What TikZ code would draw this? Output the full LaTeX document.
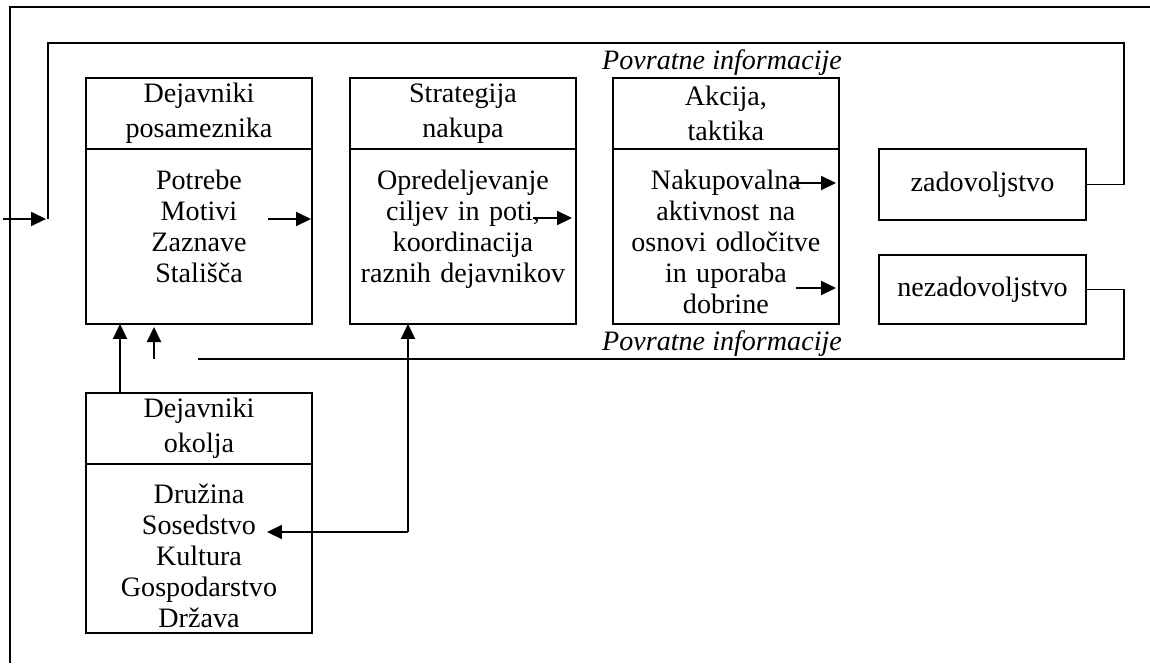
\documentclass[tikz,border=0pt]{standalone}
\usepackage{fontspec}
\setmainfont{Liberation Serif}
\usetikzlibrary{arrows.meta,positioning,calc}

\begin{document}
\begin{tikzpicture}[x=0.02cm, y=-0.02cm,
  boxhead/.style={draw, line width=0.85pt, minimum width=4.52cm, minimum height=1.42cm, inner sep=0pt, outer sep=0pt, align=center, font=\fontsize{16}{19.8}\selectfont},
  boxbody/.style={draw, line width=0.85pt, minimum width=4.52cm, inner sep=0pt, outer sep=0pt},
  boxtext/.style={text width=4.5cm, align=center, inner sep=0pt, anchor=base, font=\fontsize{16}{17.6}\selectfont},
  result/.style={draw, line width=0.85pt, minimum width=4.14cm, inner sep=0pt, outer sep=0pt, font=\fontsize{16}{19}\selectfont},
  feedlabel/.style={inner sep=0pt, anchor=base, font=\fontsize{16}{19}\selectfont\itshape},
  feed/.style={line width=0.7pt},
  frameline/.style={line width=0.85pt},
  arr/.style={line width=1.2pt, -{Triangle[length=0.3cm,width=0.28cm]}}]
\useasboundingbox (0,0) rectangle (1150,663);

% outer frame
\draw[frameline] (10,663) -- (10,7) -- (1150,7);

% boxes
\node[boxhead] (posHead) at (199,113.5) {Dejavniki\\posameznika};
\node[boxbody, minimum height=3.5cm, below=0pt of posHead] (posBody) {};
\node[boxhead, right=0.76cm of posHead] (strHead) {Strategija\\nakupa};
\node[boxbody, minimum height=3.5cm, below=0pt of strHead] (strBody) {};
\node[boxhead, right=0.74cm of strHead] (akcHead) {Akcija,\\taktika};
\node[boxbody, minimum height=3.5cm, below=0pt of akcHead] (akcBody) {};
\node[boxhead, below=1.38cm of posBody] (okoHead) {Dejavniki\\okolja};
\node[boxbody, minimum height=3.38cm, below=0pt of okoHead] (okoBody) {};

\node[boxtext] (posText) at ($(posBody.north)+(0,41)$) {Potrebe\\Motivi\\Zaznave\\Stališča};
\node[boxtext] (strText) at ($(strBody.north)+(0,41)$) {Opredeljevanje\\ciljev in poti,\\koordinacija\\raznih dejavnikov};
\node[boxtext] (akcText) at ($(akcBody.north)+(0,41)$) {Nakupovalna\\aktivnost na\\osnovi odločitve\\in uporaba\\dobrine};
\node[boxtext] (okoText) at ($(okoBody.north)+(0,40)$) {Družina\\Sosedstvo\\Kultura\\Gospodarstvo\\Država};

% outcomes
\node[result, minimum height=1.42cm] (zad) at (982.5,184.5) {zadovoljstvo};
\node[result, minimum height=1.38cm, below=0.7cm of zad] (nezad) {nezadovoljstvo};

% feedback
\node[feedlabel] (fbTopLabel) at (722,69) {Povratne informacije};
\node[feedlabel] (fbBotLabel) at (722,350) {Povratne informacije};

\coordinate (fbTopR) at (1124,43);
\coordinate (fbIn) at (48,219);
\draw[feed] (zad.east) -| (fbTopR) -| (fbIn);
\coordinate (fbBotR) at (1124,359);
\coordinate (fbBotL) at (198,359);
\draw[feed] (nezad.east) -| (fbBotR) -- (fbBotL);

\coordinate (inStart) at (3,219);
\coordinate (inEnd) at (46,219);
\draw[arr] (inStart) -- (inEnd);

% arrows in the boxes
\coordinate (posA) at (268,219);
\coordinate (posB) at (311,219);
\draw[arr] (posA) -- (posB);
\coordinate (strA) at (533,218);
\coordinate (strB) at (572,218);
\draw[arr] (strA) -- (strB);
\coordinate (akcA) at (793,183);
\coordinate (akcB) at (836,183);
\draw[arr] (akcA) -- (akcB);
\coordinate (akcC) at (796,288);
\coordinate (akcD) at (836,288);
\draw[arr] (akcC) -- (akcD);

% environment links
\draw[arr] ([xshift=-1.58cm]okoHead.north) -- ([xshift=-1.58cm]posBody.south);
\coordinate (upB) at (154,359);
\coordinate (upBEnd) at (154,327);
\draw[arr] (upB) -- (upBEnd);
\coordinate (strLink) at (408,532);
\coordinate (sosed) at (267,532);
\draw[arr] (strLink) -- (strLink |- strBody.south);
\draw[arr] (strLink) -- (sosed);

\end{tikzpicture}
\end{document}
